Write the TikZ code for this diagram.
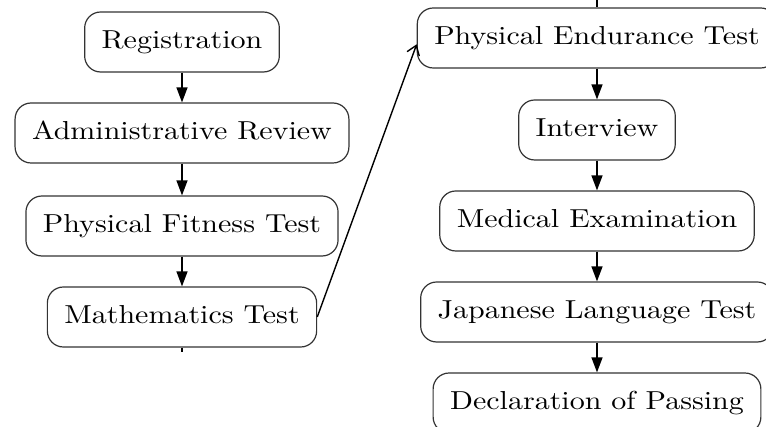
\documentclass[tikz,border=0pt]{standalone}
\usepackage{graphicx}
\usetikzlibrary{arrows.meta}
\newcommand{\bt}[1]{\scalebox{3.0}[2.6]{#1}}
\tikzset{
  stage/.style={draw=black!80, line width=1.2pt, rounded corners=16pt, fill=white,
    minimum height=60pt, inner xsep=17pt, inner ysep=0pt, anchor=center,
    text height=18pt, text depth=5pt},
  flow/.style={line width=1.3pt, -{Triangle[length=15pt,width=11pt]}},
  jump/.style={line width=1.4pt, -{Straight Barb[length=9pt,width=13pt,line width=1.4pt]}},
  stub/.style={line width=1.3pt}
}
\begin{document}
\begin{tikzpicture}[x=1pt,y=1pt]
\useasboundingbox (0,0) rectangle (766,427);
% left column
\node[stage] (reg) at (182,{427-42}) {\bt{Registration}};
\node[stage] (adm) at (182,{427-133}) {\bt{Administrative Review}};
\node[stage] (fit) at (182,{427-226}) {\bt{Physical Fitness Test}};
\node[stage] (math) at (182,{427-317}) {\bt{Mathematics Test}};
% right column
\node[stage] (end) at (597,{427-38}) {\bt{Physical Endurance Test}};
\node[stage] (int) at (597,{427-130}) {\bt{Interview}};
\node[stage] (med) at (597,{427-221}) {\bt{Medical Examination}};
\node[stage] (jap) at (597,{427-312}) {\bt{Japanese Language Test}};
\node[stage] (dec) at (597,{427-403}) {\bt{Declaration of Passing}};
% stubs
\coordinate (s1) at (182,{427-352});
\coordinate (s2) at (597,427);
\draw[stub] (math.south) -- (s1);
\draw[stub] (s2) -- (end.north);
% arrows
\draw[flow] (reg) -- (adm);
\draw[flow] (adm) -- (fit);
\draw[flow] (fit) -- (math);
\draw[flow] (end) -- (int);
\draw[flow] (int) -- (med);
\draw[flow] (med) -- (jap);
\draw[flow] (jap) -- (dec);
\draw[jump] (math.east) -- (end.182);
\end{tikzpicture}
\end{document}
